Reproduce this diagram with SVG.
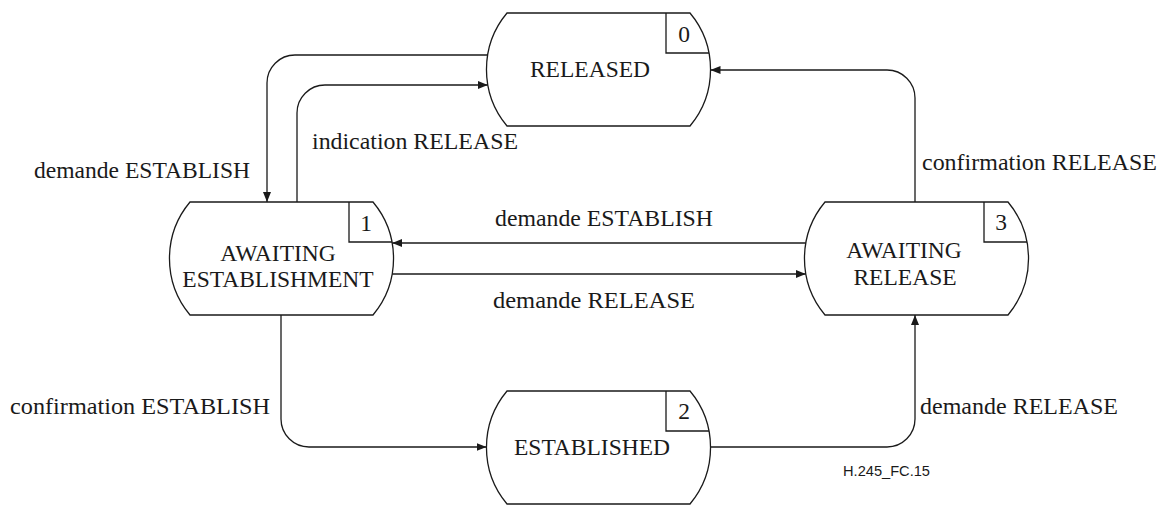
<svg xmlns="http://www.w3.org/2000/svg" xmlns:xlink="http://www.w3.org/1999/xlink" width="1165" height="505" viewBox="0 0 1165 505">
<defs>
<style>
.shape{fill:#fff;stroke:#1a1a1a;stroke-width:1.3}
.box{fill:none;stroke:#1a1a1a;stroke-width:1.3}
.conn{fill:none;stroke:#1a1a1a;stroke-width:1.3}
.nt{font-family:"Liberation Serif","Times New Roman",serif;font-size:23.5px;fill:#1a1a1a;text-anchor:middle}
.lbl{font-family:"Liberation Serif","Times New Roman",serif;font-size:23.5px;fill:#1a1a1a}
.ref{font-family:"Liberation Sans",Arial,sans-serif;font-size:14px;fill:#1a1a1a}
</style>
<marker id="arr" viewBox="0 0 10 8" refX="10" refY="4" markerWidth="10" markerHeight="8" markerUnits="userSpaceOnUse" orient="auto">
<path d="M0,0 L10,4 L0,8 z" fill="#1a1a1a"/>
</marker>
<path id="state" d="M0,0 H183 A88 88 0 0 1 183,113 H0 A88 88 0 0 1 0,0 Z"/>
<path id="numbox" d="M159,0 V40 H202"/>
</defs>

<g id="connectors">
<path class="conn" d="M487.7,55 H295 A28 28 0 0 0 267,83 V202" marker-end="url(#arr)"/>
<path class="conn" d="M297,202 V113 A28 28 0 0 1 325,85 H487.8" marker-end="url(#arr)"/>
<path class="conn" d="M915,202 V98 A28 28 0 0 0 887,70 H710.5" marker-end="url(#arr)"/>
<path class="conn" d="M805.8,243 H392.2" marker-end="url(#arr)"/>
<path class="conn" d="M392.2,274 H805.8" marker-end="url(#arr)"/>
<path class="conn" d="M281,315 V419 A28 28 0 0 0 309,447 H486.5" marker-end="url(#arr)"/>
<path class="conn" d="M710.5,447 H887 A28 28 0 0 0 915,419 V315" marker-end="url(#arr)"/>
</g>

<g id="labels">
<text class="lbl" x="34" y="178" textLength="216" lengthAdjust="spacingAndGlyphs">demande ESTABLISH</text>
<text class="lbl" x="312" y="149" textLength="206" lengthAdjust="spacingAndGlyphs">indication RELEASE</text>
<text class="lbl" x="922" y="170" textLength="235" lengthAdjust="spacingAndGlyphs">confirmation RELEASE</text>
<text class="lbl" x="495" y="226" textLength="218" lengthAdjust="spacingAndGlyphs">demande ESTABLISH</text>
<text class="lbl" x="493" y="308" textLength="202" lengthAdjust="spacingAndGlyphs">demande RELEASE</text>
<text class="lbl" x="10" y="414" textLength="260" lengthAdjust="spacingAndGlyphs">confirmation ESTABLISH</text>
<text class="lbl" x="920" y="414" textLength="198" lengthAdjust="spacingAndGlyphs">demande RELEASE</text>
<text class="ref" x="843" y="476" textLength="87" lengthAdjust="spacingAndGlyphs">H.245_FC.15</text>
</g>

<g id="state0" transform="translate(507,13)">
<use xlink:href="#state" class="shape"/>
<use xlink:href="#numbox" class="box"/>
<text class="nt" x="177" y="29">0</text>
<text class="nt" x="83" y="64">RELEASED</text>
</g>

<g id="state1" transform="translate(190,202)">
<use xlink:href="#state" class="shape"/>
<use xlink:href="#numbox" class="box"/>
<text class="nt" x="176" y="29">1</text>
<text class="nt" x="88" y="59">AWAITING</text>
<text class="nt" x="88" y="85">ESTABLISHMENT</text>
</g>

<g id="state2" transform="translate(507,391)">
<use xlink:href="#state" class="shape"/>
<use xlink:href="#numbox" class="box"/>
<text class="nt" x="177" y="28">2</text>
<text class="nt" x="85" y="64">ESTABLISHED</text>
</g>

<g id="state3" transform="translate(825,202)">
<use xlink:href="#state" class="shape"/>
<use xlink:href="#numbox" class="box"/>
<text class="nt" x="176" y="28">3</text>
<text class="nt" x="79" y="56">AWAITING</text>
<text class="nt" x="80" y="83">RELEASE</text>
</g>
</svg>
